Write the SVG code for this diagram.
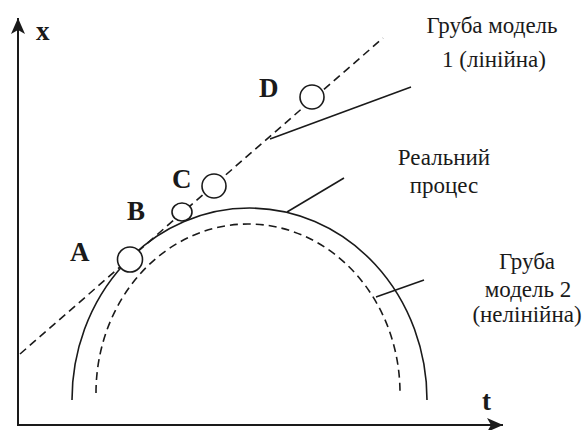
<svg xmlns="http://www.w3.org/2000/svg" width="586" height="430" viewBox="0 0 586 430">
<style>
.ln{fill:none;stroke:#1a1a1a;stroke-width:1.6}
.ax{fill:none;stroke:#1a1a1a;stroke-width:2}
.ds{fill:none;stroke:#1a1a1a;stroke-width:1.6;stroke-dasharray:8 5}
.pt{fill:#fff;stroke:#1a1a1a;stroke-width:1.6}
.lb{font-family:"Liberation Serif","Times New Roman",serif;font-size:23px;fill:#1a1a1a;text-anchor:middle}
.bl{font-family:"Liberation Serif","Times New Roman",serif;font-size:27px;font-weight:bold;fill:#1a1a1a}
</style>
<defs>
<marker id="ah" markerWidth="17" markerHeight="16" refX="16" refY="7" orient="auto" markerUnits="userSpaceOnUse">
<path d="M0,0 L16,7 L0,14 L4,7 Z" fill="#1a1a1a"/>
</marker>
</defs>
<g id="axes">
<line class="ax" x1="18" y1="426" x2="18" y2="18" marker-end="url(#ah)"/>
<line class="ax" x1="17" y1="425" x2="503" y2="425" marker-end="url(#ah)"/>
<text class="bl" x="36" y="40">x</text>
<text class="bl" x="482" y="410">t</text>
</g>
<g id="curves">
<path id="real" class="ln" d="M72 400 A177.5 192 0 0 1 427 400"/>
<path id="model2" class="ds" d="M96 393 A152 169 0 0 1 400 393"/>
<line id="model1" class="ds" x1="20" y1="354" x2="383" y2="38"/>
</g>
<g id="connectors">
<line class="ln" x1="270" y1="139" x2="411" y2="87"/>
<line class="ln" x1="287" y1="212" x2="344" y2="178"/>
<line class="ln" x1="376" y1="297" x2="424" y2="280"/>
</g>
<g id="pointA"><circle class="pt" cx="130" cy="259.5" r="12.5"/><text class="bl" x="70" y="261">A</text></g>
<g id="pointB"><ellipse class="pt" cx="182" cy="212" rx="10" ry="9"/><text class="bl" x="127" y="220">B</text></g>
<g id="pointC"><circle class="pt" cx="214" cy="186" r="12"/><text class="bl" x="172" y="188">C</text></g>
<g id="pointD"><circle class="pt" cx="312" cy="97" r="12"/><text class="bl" x="259" y="97">D</text></g>
<g id="label1">
<text class="lb" x="492" y="33">Груба модель</text>
<text class="lb" x="494" y="67">1 (лінійна)</text>
</g>
<g id="label-real">
<text class="lb" x="444" y="165">Реальний</text>
<text class="lb" x="444" y="193">процес</text>
</g>
<g id="label2">
<text class="lb" x="527" y="269">Груба</text>
<text class="lb" x="528" y="297">модель 2</text>
<text class="lb" x="527" y="322">(нелінійна)</text>
</g>
</svg>
